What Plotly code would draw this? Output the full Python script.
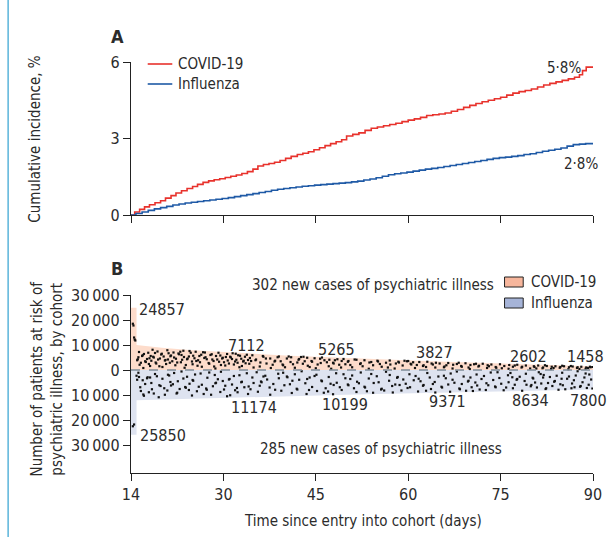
import plotly.graph_objects as go

# ---------------- Panel A: cumulative incidence (%) ----------------
covid_ci_day = [15.0, 15.6, 16.4, 17.2, 18.0, 18.9, 19.8, 20.6, 21.5, 22.3, 23.2, 24.1, 25.0, 25.8,
                26.7, 27.6, 28.5, 29.4, 30.3, 31.2, 32.1, 33.0, 33.9, 34.8, 35.6, 36.5, 37.4, 38.3,
                39.2, 40.1, 41.0, 42.0, 42.9, 43.8, 44.7, 45.6, 46.5, 47.4, 48.3, 49.2, 50.0, 51.0,
                52.0, 53.0, 54.0, 55.0, 56.0, 57.0, 58.0, 59.0, 60.0, 61.0, 62.0, 63.0, 64.0, 65.0,
                66.0, 67.0, 68.0, 69.0, 70.0, 71.0, 72.0, 73.0, 74.0, 75.0, 76.0, 77.0, 78.0, 79.0,
                80.0, 81.0, 82.0, 83.0, 84.0, 85.0, 86.0, 87.0, 87.8, 88.3, 88.9, 90.0]
covid_ci_val = [0.00, 0.12, 0.22, 0.32, 0.40, 0.48, 0.56, 0.66, 0.76, 0.86, 0.95, 1.04, 1.12, 1.20,
                1.28, 1.34, 1.38, 1.42, 1.47, 1.52, 1.57, 1.63, 1.70, 1.80, 1.92, 1.98, 2.02, 2.07,
                2.14, 2.22, 2.30, 2.37, 2.42, 2.48, 2.56, 2.64, 2.72, 2.80, 2.87, 2.95, 3.10, 3.16,
                3.22, 3.32, 3.40, 3.45, 3.50, 3.55, 3.60, 3.66, 3.72, 3.77, 3.83, 3.90, 3.93, 3.96,
                4.00, 4.07, 4.14, 4.22, 4.30, 4.37, 4.44, 4.50, 4.56, 4.62, 4.70, 4.78, 4.84, 4.88,
                4.94, 5.02, 5.10, 5.16, 5.22, 5.28, 5.34, 5.40, 5.50, 5.66, 5.80, 5.80]

flu_ci_day = [15.0, 15.8, 16.8, 17.8, 18.8, 19.8, 20.8, 21.8, 22.8, 23.8, 24.8, 25.8, 26.8, 27.8,
              28.8, 29.8, 30.8, 31.8, 32.8, 33.8, 34.8, 35.8, 36.8, 37.8, 38.8, 39.8, 40.8, 41.8,
              42.8, 43.8, 44.8, 45.8, 46.8, 47.8, 48.8, 49.8, 50.8, 51.8, 52.8, 53.8, 54.8, 55.8,
              56.8, 57.8, 58.8, 59.8, 60.8, 61.8, 62.8, 63.8, 64.8, 65.8, 66.8, 67.8, 68.8, 69.8,
              70.8, 71.8, 72.8, 73.8, 74.8, 75.8, 76.8, 77.8, 78.8, 79.8, 80.8, 81.8, 82.8, 83.8,
              84.8, 85.8, 86.8, 87.8, 88.8, 90.0]
flu_ci_val = [0.00, 0.06, 0.12, 0.18, 0.24, 0.29, 0.34, 0.39, 0.43, 0.47, 0.50, 0.53, 0.56, 0.59,
              0.62, 0.65, 0.68, 0.72, 0.76, 0.80, 0.84, 0.88, 0.92, 0.97, 1.01, 1.04, 1.07, 1.10,
              1.13, 1.15, 1.17, 1.19, 1.21, 1.23, 1.25, 1.27, 1.30, 1.33, 1.37, 1.41, 1.46, 1.52,
              1.58, 1.62, 1.65, 1.68, 1.72, 1.76, 1.80, 1.83, 1.86, 1.90, 1.94, 1.98, 2.02, 2.06,
              2.10, 2.14, 2.18, 2.22, 2.25, 2.27, 2.30, 2.33, 2.37, 2.40, 2.45, 2.50, 2.54, 2.58,
              2.63, 2.70, 2.76, 2.78, 2.80, 2.80]

# ---------------- Panel B: patients at risk ----------------
covid_risk_day = [15.0, 15.9, 15.9, 20, 25, 30, 35, 40, 45, 50, 55, 60, 65, 70, 75, 80, 85, 90]
covid_risk_val = [24857, 24857, 10000, 8900, 7900, 7112, 6400, 5800, 5265, 4750, 4250, 3827,
                  3400, 3000, 2602, 2200, 1800, 1458]
flu_risk_day = [15.0, 15.9, 15.9, 20, 25, 30, 35, 40, 45, 50, 55, 60, 65, 70, 75, 80, 85, 90]
flu_risk_val = [-25850, -25850, -12100, -11800, -11500, -11174, -10850, -10500, -10199, -9900,
                -9630, -9371, -9120, -8880, -8634, -8360, -8080, -7800]

# labelled at-risk numbers
risk_label_x_top = [16.0, 33.7, 48.3, 64.3, 79.5, 88.8]
risk_label_y_top = [24400, 9900, 8300, 7000, 5600, 5600]
risk_label_txt_top = ["24857", "7112", "5265", "3827", "2602", "1458"]
risk_label_x_bot = [16.2, 35.0, 49.8, 66.3, 79.8, 89.3]
risk_label_y_bot = [-26000, -14900, -13900, -12500, -12300, -12300]
risk_label_txt_bot = ["25850", "11174", "10199", "9371", "8634", "7800"]

# new cases (day, y-position within band) - 302 COVID-19, 285 influenza
covid_cases = [
    (15.3, 18500), (15.4, 17800), (15.5, 13000), (15.6, 12200), (15.7, 11800),
    (16.0, 3900), (16.1, 4300), (16.3, 7200), (16.4, 2100), (16.8, 5600), (16.9, 5900), (17.0, 800),
    (17.3, 3500), (17.4, 3200), (17.8, 6900), (18.0, 4700), (18.1, 1600), (18.5, 8100), (18.6, 5300),
    (18.7, 5000), (19.1, 2600), (19.3, 7400), (19.4, 4200), (19.9, 6200), (20.0, 6500), (20.1, 1200),
    (20.5, 3800), (20.6, 4000), (20.9, 7900), (21.3, 2900), (21.4, 5500), (21.5, 5800), (21.9, 7000),
    (22.2, 1900), (22.3, 4500), (22.7, 6600), (22.8, 6300), (23.1, 3100), (23.5, 7700), (23.6, 5200),
    (23.7, 900), (24.1, 4300), (24.2, 4600), (24.7, 6900), (25.0, 2300), (25.1, 5700), (25.5, 7300),
    (25.6, 3600), (25.9, 3900), (26.4, 6100), (26.5, 1300), (26.9, 4800), (27.0, 7000), (27.1, 5100),
    (27.6, 2800), (27.7, 2500), (28.1, 6300), (28.2, 4200), (28.7, 600), (28.8, 5600), (29.2, 6900),
    (29.3, 3300), (29.8, 4600), (29.9, 4900), (30.3, 1800), (30.6, 6400), (30.7, 3800), (31.1, 5300),
    (31.2, 5000), (31.7, 2200), (32.0, 6500), (32.1, 4100), (32.6, 1100), (32.7, 5700), (33.2, 3400),
    (33.3, 3700), (33.8, 6100), (34.2, 2500), (34.3, 4800), (34.7, 5900),
    (16.2, 5100), (16.6, 2900), (17.1, 6400), (17.6, 4400), (17.9, 2400), (18.3, 3700), (18.9, 6800),
    (19.6, 1500), (19.7, 4600), (20.3, 5400), (20.7, 2400), (21.1, 6700), (21.7, 3500), (22.0, 5000),
    (22.5, 3000), (23.0, 7300), (23.3, 4100), (23.9, 2000), (24.4, 5400), (24.5, 7600), (24.9, 3400),
    (25.3, 4700), (25.8, 1700), (26.1, 5600), (26.2, 3100), (26.7, 7100), (27.3, 4300), (27.9, 6000),
    (28.4, 3600), (28.5, 1400), (29.0, 4200), (29.5, 5800), (29.6, 2000), (30.1, 3100), (30.4, 5200),
    (30.9, 2600), (31.4, 4400), (31.5, 6700), (31.9, 3400), (32.3, 2900), (32.4, 5900), (32.9, 4500),
    (33.0, 1600), (33.5, 5300), (33.6, 2700), (34.0, 4000), (34.5, 3600), (34.9, 1000), (18.2, 5600),
    (19.0, 3000), (21.0, 4200), (23.2, 6000),
    (35.2, 3900), (35.3, 4200), (35.9, 1400), (36.4, 5600), (36.5, 5300), (37.0, 2600), (37.6, 4600),
    (37.7, 800), (38.3, 3400), (38.4, 3700), (39.0, 5400), (39.6, 2200), (39.7, 1900), (40.3, 4600),
    (40.9, 3200), (41.0, 5100), (41.6, 900), (42.2, 4100), (42.3, 4400), (42.9, 2500), (43.6, 4900),
    (43.7, 1700), (44.3, 3600), (44.4, 3300), (45.0, 700), (45.7, 4500), (45.8, 2800), (46.4, 3900),
    (47.1, 1500), (47.2, 4100), (47.8, 2900), (47.9, 2600), (48.5, 4300), (49.1, 1000), (49.2, 3600),
    (49.8, 2300), (36.0, 3000), (36.9, 4600), (38.0, 2100), (38.8, 5100), (39.3, 3500), (40.0, 1100),
    (40.6, 5400), (41.3, 2300), (42.0, 3000), (42.6, 5200), (43.2, 3500), (44.0, 1200), (44.8, 4700),
    (45.3, 2200), (46.0, 5000), (46.8, 3100), (47.5, 500), (48.1, 3900), (48.8, 2100), (49.5, 4400),
    (43.0, 5300),
    (50.2, 3300), (50.3, 3600), (50.9, 1100), (51.6, 4100), (52.2, 2400), (52.3, 2700), (52.9, 3900),
    (53.6, 500), (53.7, 3000), (54.3, 1900), (55.0, 3700), (55.1, 3400), (55.7, 1300), (56.4, 2900),
    (57.0, 3800), (57.1, 2200), (57.8, 600), (58.4, 3300), (58.5, 3000), (59.1, 1800), (59.8, 3500),
    (60.4, 2500), (60.5, 2200), (61.1, 800), (61.8, 3200), (62.4, 1600), (62.5, 1900), (63.1, 3300),
    (63.8, 2600), (64.4, 1000), (64.5, 2900), (50.6, 2000), (51.3, 4200), (52.6, 1500), (54.0, 3200),
    (55.4, 2400), (56.7, 1000), (58.0, 2600), (59.4, 3700), (60.8, 3100), (61.4, 2000), (62.9, 1200),
    (64.0, 2200), (60.0, 3600),
    (65.1, 2600), (65.8, 1100), (65.9, 1400), (66.5, 2800), (67.2, 600), (67.3, 2100), (67.9, 2400),
    (68.6, 1600), (68.7, 1300), (69.3, 2700), (70.0, 400), (70.1, 2000), (70.7, 2300), (71.4, 1400),
    (71.5, 1700), (72.1, 2500), (72.8, 800), (72.9, 1900), (73.5, 2200), (74.2, 1200), (74.3, 900),
    (74.9, 2300), (75.6, 1600), (76.3, 500), (76.4, 2000), (77.0, 1300), (77.7, 2100), (78.4, 1000),
    (78.5, 1300), (79.1, 1800), (79.8, 600), (66.2, 1900), (68.2, 2900), (69.8, 1000), (71.0, 2500),
    (73.1, 1500), (75.2, 700), (77.3, 1800),
    (80.4, 1500), (80.5, 1200), (81.1, 1800), (81.8, 700), (81.9, 1000), (82.5, 1600), (83.2, 400),
    (83.3, 1300), (83.9, 1500), (84.6, 900), (84.7, 1200), (85.3, 1500), (86.0, 300), (86.1, 1100),
    (86.7, 1400), (87.4, 800), (87.5, 1100), (88.1, 1300), (88.8, 500), (88.9, 1000), (89.5, 1300),
    (89.6, 1100), (80.8, 600), (82.2, 1900), (83.6, 800), (85.0, 1700), (86.4, 1600), (87.8, 400),
    (89.2, 800), (89.9, 1200),
]

flu_cases = [
    (15.3, -22500), (15.5, -21800),
    (15.9, -2300), (16.0, -3900), (16.2, -1100), (16.3, -2800), (16.5, -6900), (16.9, -4100),
    (17.0, -9800), (17.1, -10300), (17.6, -3300), (17.7, -2900), (18.3, -5200), (18.4, -7700),
    (18.9, -1600), (19.5, -10900), (19.6, -6100), (19.8, -6400), (20.1, -3500), (20.9, -8200),
    (21.0, -1900), (21.2, -2200), (21.8, -5700), (22.4, -9400), (22.5, -9100), (22.6, -4500),
    (23.2, -600), (23.8, -6800), (23.9, -7100), (24.1, -2700), (24.9, -10200), (25.0, -4000),
    (25.1, -4300), (25.7, -8500), (26.3, -1400), (26.5, -5900), (27.2, -7400), (27.3, -7900),
    (27.4, -3100), (28.0, -9900), (28.6, -2000), (28.7, -5300), (28.8, -5100), (29.5, -8800),
    (29.6, -700), (30.3, -6300), (30.9, -3800), (31.0, -3600), (31.1, -10100), (31.7, -2400),
    (32.2, -7200), (32.3, -8900), (32.9, -4900), (33.0, -4700), (33.8, -1300), (34.0, -9600),
    (34.1, -6600), (34.7, -3000),
    (16.6, -8400), (17.3, -5600), (17.9, -8900), (18.1, -3000), (18.7, -9400), (19.2, -2500),
    (20.4, -7300), (20.5, -9900), (21.4, -4800), (21.5, -6200), (22.0, -1200), (22.9, -7600),
    (23.5, -3400), (24.4, -8000), (24.5, -5500), (25.4, -1800), (26.0, -6700), (26.8, -9600),
    (27.7, -1000), (28.3, -6500), (29.1, -3700), (29.9, -4400), (30.1, -7800), (30.6, -10500),
    (31.4, -5800), (31.9, -8100), (32.6, -2100), (33.4, -6900), (34.4, -7700), (34.9, -5200),
    (35.4, -900), (35.6, -8700), (36.1, -4600), (36.2, -4900), (36.8, -2300), (37.5, -7000),
    (37.6, -9900), (38.1, -5600), (38.9, -1500), (39.0, -3300), (39.4, -8300), (39.9, -6100),
    (40.3, -2600), (40.4, -2900), (41.1, -9200), (41.2, -4300), (41.9, -7500), (42.0, -7800),
    (42.7, -500), (43.3, -5300), (43.5, -9600), (43.6, -3600), (44.4, -6800), (45.1, -1900),
    (45.2, -8400), (45.9, -4200), (46.0, -4500), (46.6, -7300), (47.1, -2800), (47.8, -9700),
    (47.9, -6000), (48.3, -1300), (48.4, -5100), (49.2, -8000), (49.8, -3300), (35.9, -6300),
    (36.5, -2600), (37.1, -3800), (38.4, -7900), (39.7, -1100), (40.8, -5700), (41.6, -1700),
    (42.3, -3900), (43.9, -8000), (44.8, -2400), (46.3, -9100), (47.4, -5500), (48.9, -6900),
    (49.5, -1700), (44.0, -3000), (47.0, -8600),
    (50.2, -5800), (50.3, -6100), (50.9, -2200), (51.6, -8800), (51.7, -4700), (52.3, -1000),
    (52.9, -6700), (53.0, -7000), (53.6, -3400), (54.3, -9100), (54.4, -5200), (54.9, -2500),
    (55.6, -7800), (55.7, -7500), (56.4, -700), (56.9, -4300), (57.4, -6400), (57.5, -9000),
    (58.2, -3100), (58.3, -2800), (58.9, -8200), (59.6, -5500), (60.2, -1700), (60.3, -6900),
    (60.9, -4100), (61.6, -8600), (61.7, -3500), (62.4, -6300), (62.5, -6000), (63.1, -1200),
    (63.7, -7600), (64.3, -4800), (64.4, -9000), (64.9, -2600), (50.6, -3600), (51.2, -7300),
    (52.0, -5300), (53.3, -8500), (54.0, -1600), (55.2, -4900), (56.1, -8200), (57.0, -2000),
    (57.9, -5800), (59.2, -3800), (59.9, -7200), (61.2, -2400), (62.0, -4500), (62.9, -8300),
    (63.5, -3000), (64.0, -5600), (58.6, -6000),
    (65.4, -6700), (65.5, -7000), (66.1, -3300), (66.8, -8700), (66.9, -1400), (67.5, -5100),
    (68.3, -7400), (68.4, -7700), (69.0, -2600), (69.7, -4600), (69.8, -4300), (70.5, -8400),
    (71.1, -1800), (71.2, -6200), (71.9, -3600), (72.6, -8000), (72.7, -5300), (73.4, -1000),
    (74.1, -6600), (74.2, -6900), (74.8, -3200), (75.5, -8100), (76.2, -2100), (76.3, -4900),
    (77.0, -7300), (77.6, -3900), (77.7, -3600), (78.5, -8300), (79.1, -1500), (79.2, -5900),
    (79.9, -6500), (65.8, -2300), (66.5, -5800), (67.2, -3900), (67.9, -600), (68.7, -5600),
    (69.4, -8300), (70.1, -3000), (70.9, -5000), (71.6, -7800), (72.3, -2400), (73.0, -6100),
    (73.8, -4000), (74.5, -900), (75.1, -5500), (75.9, -7000), (76.6, -1200), (77.3, -5900),
    (78.1, -2700), (78.9, -4400), (70.3, -6900), (76.9, -2900),
    (80.2, -3100), (80.3, -3400), (80.9, -7000), (81.5, -1600), (81.6, -5400), (82.3, -7600),
    (82.4, -7300), (83.0, -2800), (83.7, -4700), (83.8, -4400), (84.4, -7900), (85.0, -1100),
    (85.1, -6100), (85.8, -3500), (86.5, -7300), (86.6, -5400), (87.2, -2200), (87.9, -6700),
    (88.0, -6400), (88.6, -3000), (89.3, -5900), (89.4, -1800), (89.9, -7400), (80.6, -5000),
    (81.2, -900), (81.9, -3000), (82.7, -5200), (83.4, -6400), (84.1, -2300), (84.7, -5700),
    (85.5, -7700), (86.1, -2600), (86.9, -4100), (87.5, -500), (88.3, -4900), (89.0, -7200),
    (89.7, -3800), (80.0, -6000), (82.0, -2000), (84.9, -3500), (87.0, -6900), (88.8, -1400),
]

x_tickvals = [15, 30, 45, 60, 75, 90]
x_ticktext = ["14", "30", "45", "60", "75", "90"]
yA_tickvals = [0, 3, 6]
yB_tickvals = [30000, 20000, 10000, 0, -10000, -20000, -30000]
yB_ticktext = ["30\u2009000", "20\u2009000", "10\u2009000", "0", "10\u2009000", "20\u2009000", "30\u2009000"]

FONT = "DejaVu Sans Condensed, Liberation Sans Narrow, sans-serif"
TXT = "#2b2b2b"
RED = "#e8322c"
BLUE = "#1f5aa6"
PINK_FILL = "#fddccb"
BLUE_FILL = "#dee3f0"

fig = go.Figure()

# Panel A lines
fig.add_trace(go.Scatter(x=covid_ci_day, y=covid_ci_val, mode="lines", line_shape="hv",
                         line=dict(color=RED, width=1.6), xaxis="x", yaxis="y", showlegend=False))
fig.add_trace(go.Scatter(x=flu_ci_day, y=flu_ci_val, mode="lines", line_shape="hv",
                         line=dict(color=BLUE, width=1.6), xaxis="x", yaxis="y", showlegend=False))

# Panel B fills
fig.add_trace(go.Scatter(x=covid_risk_day, y=covid_risk_val, mode="lines", fill="tozeroy",
                         fillcolor=PINK_FILL, line=dict(width=0, color=PINK_FILL),
                         xaxis="x2", yaxis="y2", showlegend=False))
fig.add_trace(go.Scatter(x=flu_risk_day, y=flu_risk_val, mode="lines", fill="tozeroy",
                         fillcolor=BLUE_FILL, line=dict(width=0, color=BLUE_FILL),
                         xaxis="x2", yaxis="y2", showlegend=False))

# zero dashed line
fig.add_shape(type="line", xref="x2", yref="y2", x0=15, x1=90, y0=0, y1=0,
              line=dict(color="#7d8c98", width=1.4, dash="dash"), layer="above")

# case dots
fig.add_trace(go.Scatter(x=[p[0] for p in covid_cases], y=[p[1] for p in covid_cases], mode="markers",
                         marker=dict(symbol="square", size=2.2, color="#111111"),
                         xaxis="x2", yaxis="y2", showlegend=False))
fig.add_trace(go.Scatter(x=[p[0] for p in flu_cases], y=[p[1] for p in flu_cases], mode="markers",
                         marker=dict(symbol="square", size=2.2, color="#111111"),
                         xaxis="x2", yaxis="y2", showlegend=False))

# at-risk labels
for x, y, t in zip(risk_label_x_top, risk_label_y_top, risk_label_txt_top):
    fig.add_annotation(x=x, y=y, xref="x2", yref="y2", text=t, showarrow=False,
                       xanchor="left" if t == "24857" else "center", yanchor="middle",
                       font=dict(size=16, color=TXT))
for x, y, t in zip(risk_label_x_bot, risk_label_y_bot, risk_label_txt_bot):
    fig.add_annotation(x=x, y=y, xref="x2", yref="y2", text=t, showarrow=False,
                       xanchor="left" if t == "25850" else "center", yanchor="middle",
                       font=dict(size=16, color=TXT))

# Panel A end labels
fig.add_annotation(x=88.0, y=5.78, xref="x", yref="y", text="5\u00b78%", showarrow=False,
                   xanchor="right", yanchor="middle", xshift=2, font=dict(size=15, color=TXT))
fig.add_annotation(x=90, y=2.0, xref="x", yref="y", text="2\u00b78%", showarrow=False,
                   xanchor="right", yanchor="middle", xshift=7, font=dict(size=15, color=TXT))

W, H = 614, 537
L, R, T, B = 131, 13, 62, 64
PW, PH = W - L - R, H - T - B


def px(x):
    return (x - L) / PW


def py(y):
    return (H - B - y) / PH


def paper_text(x, y, text, size=15, angle=0, xanchor="center", bold=False):
    fig.add_annotation(x=px(x), y=py(y), xref="paper", yref="paper",
                       text=f"<b>{text}</b>" if bold else text, textangle=angle,
                       showarrow=False, xanchor=xanchor, yanchor="middle",
                       font=dict(size=size, color=TXT))


# Panel letters
paper_text(117, 37, "A", size=18, bold=True)
paper_text(117, 268, "B", size=18, bold=True)

# axis titles and notes
paper_text(33, 139, "Cumulative incidence, %", angle=-90)
paper_text(46, 378, "Number of patients at risk of<br>psychiatric illness, by cohort", angle=-90)
paper_text(367, 521, "Time since entry into cohort (days)")
paper_text(377, 285, "302 new cases of psychiatric illness")
paper_text(385, 449, "285 new cases of psychiatric illness")

# legend A (manual)
fig.add_shape(type="line", xref="paper", yref="paper", x0=px(148), x1=px(173), y0=py(64), y1=py(64),
              line=dict(color=RED, width=1.6))
fig.add_shape(type="line", xref="paper", yref="paper", x0=px(148), x1=px(173), y0=py(84), y1=py(84),
              line=dict(color=BLUE, width=1.6))
paper_text(177, 64, "COVID-19", xanchor="left")
paper_text(177, 84, "Influenza", xanchor="left")

# legend B (manual)
fig.add_shape(type="rect", xref="paper", yref="paper", x0=px(511), x1=px(530), y0=py(287), y1=py(277),
              fillcolor="#f7b69c", line=dict(color="#222222", width=1))
fig.add_shape(type="rect", xref="paper", yref="paper", x0=px(511), x1=px(530), y0=py(308), y1=py(298),
              fillcolor="#a6b4d8", line=dict(color="#222222", width=1))
paper_text(536, 282, "COVID-19", xanchor="left")
paper_text(536, 303, "Influenza", xanchor="left")

# left border accent line
fig.add_shape(type="line", xref="paper", yref="paper", x0=px(6), x1=px(6), y0=py(0), y1=py(537),
              line=dict(color="#5ab4da", width=1.5))

axis_common = dict(showgrid=False, zeroline=False, showline=True, linecolor="#222222", linewidth=1.3,
                   ticks="outside", ticklen=7, tickwidth=1.3, tickcolor="#222222",
                   tickfont=dict(size=16, color=TXT))

yA_bottom = py(215)
yB_top = py(295)

fig.update_layout(
    width=W, height=H,
    margin=dict(l=L, r=R, t=T, b=B),
    paper_bgcolor="white", plot_bgcolor="white",
    font=dict(family=FONT, color=TXT, size=15),
    showlegend=False,
    xaxis=dict(domain=[0, 1], anchor="y", range=[15, 90], tickvals=x_tickvals, showticklabels=False,
               **axis_common),
    yaxis=dict(domain=[yA_bottom, 1], anchor="x", range=[0, 6], tickvals=yA_tickvals, **axis_common),
    xaxis2=dict(domain=[0, 1], anchor="y2", range=[15, 90], tickvals=x_tickvals, ticktext=x_ticktext,
                **axis_common),
    yaxis2=dict(domain=[0, yB_top], anchor="x2", range=[-41200, 30000], tickvals=yB_tickvals,
                ticktext=yB_ticktext, **axis_common),
)

fig.write_html("out.html", config={"displayModeBar": False},
               post_script="document.body.style.margin='0';")
